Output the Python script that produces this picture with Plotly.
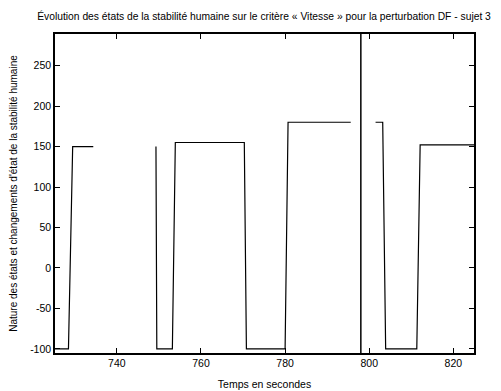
import plotly.graph_objects as go

# Data
time_s = [725.3, 728.5, 729.5, 734.4, None, 749.3, 749.5, 753.2, 753.9, 770.3, 770.8,
          780.0, 780.7, 795.6, None, 801.5, 803.2, 803.9, 811.3, 812.1, 825.0]
state = [-100, -100, 150, 150, None, 150, -100, -100, 155, 155, -100,
         -100, 180, 180, None, 180, 180, -100, -100, 152, 152]
divider_time = 798.0

x_ticks = [740, 760, 780, 800, 820]
y_ticks = [-100, -50, 0, 50, 100, 150, 200, 250]
y_tick_labels = ["-100", "-50", "0", "50", "100", "150", "200", "250"]

FONT = "Liberation Sans, Arial, sans-serif"

fig = go.Figure()
fig.add_trace(go.Scatter(x=time_s, y=state, mode="lines",
                         line=dict(color="black", width=1.2),
                         connectgaps=False, showlegend=False, hoverinfo="skip"))
fig.add_vline(x=divider_time, line=dict(color="black", width=1.5))

fig.update_layout(
    width=501, height=391,
    margin=dict(l=47, r=35, t=26, b=46, autoexpand=False),
    paper_bgcolor="white", plot_bgcolor="white",
    font=dict(family=FONT, size=10, color="black"),
    title=dict(text="Évolution des états de la stabilité humaine sur le critère « Vitesse » pour la perturbation DF - sujet 3",
               x=0.511, xanchor="center", y=0.978, yanchor="middle",
               font=dict(family=FONT, size=10.3, color="black")),
    showlegend=False,
)
fig.update_xaxes(range=[725.3, 824.9], tickvals=x_ticks, ticks="inside", ticklen=5,
                 tickcolor="black", showline=True, linecolor="black", linewidth=1.5,
                 mirror="ticks", showgrid=False, zeroline=False, automargin=False,
                 title=dict(text="Temps en secondes", standoff=12, font=dict(size=10.5)),
                 tickfont=dict(size=10.5))
fig.update_yaxes(range=[-105, 289], tickvals=y_ticks, ticktext=y_tick_labels,
                 ticks="inside", ticklen=5,
                 tickcolor="black", showline=True, linecolor="black", linewidth=1.5,
                 mirror="ticks", showgrid=False, zeroline=False, automargin=False,
                 title=dict(text="Nature des états et changements d'état de la stabilité humaine",
                            standoff=16, font=dict(size=10)),
                 tickfont=dict(size=10.5))

fig.write_html("out.html")
